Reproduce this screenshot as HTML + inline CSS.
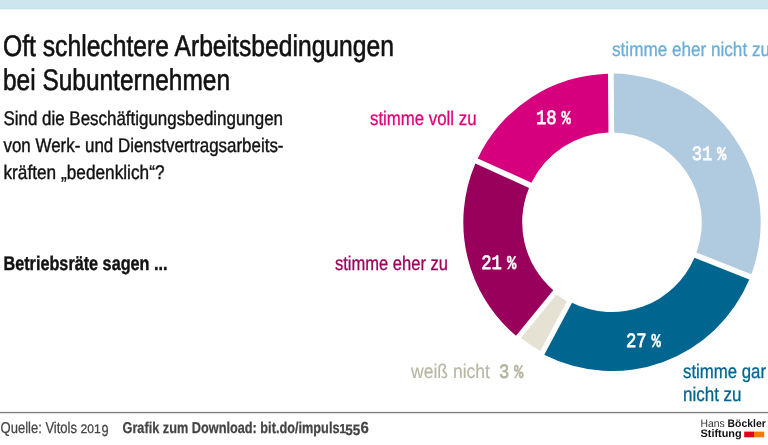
<!DOCTYPE html>
<html lang="de">
<head>
<meta charset="utf-8">
<title>Oft schlechtere Arbeitsbedingungen bei Subunternehmen</title>
<style>
html,body{margin:0;padding:0;background:#fff;}
body{width:768px;height:445px;overflow:hidden;}
svg{display:block;}
text{font-family:"Liberation Sans",sans-serif;text-rendering:geometricPrecision;}
.t{font-size:29.8px;fill:#111;stroke:#111;stroke-width:0.6px;}
.s{font-size:19.8px;fill:#111;stroke:#111;stroke-width:0.4px;}
.l{font-size:19.8px;stroke-width:0.3px;}
.b{font-weight:bold;}
.f{font-size:15.7px;fill:#444;stroke:#444;stroke-width:0.25px;}
.p{font-family:"Liberation Mono",monospace;font-weight:normal;font-size:20.3px;stroke-width:0.75px;stroke-linejoin:round;}
.q{font-family:"Liberation Mono",monospace;font-weight:bold;font-size:19.5px;stroke-width:0.4px;}
</style>
</head>
<body>
<svg width="768" height="445" viewBox="0 0 768 445">
<rect x="0" y="0" width="768" height="9" fill="#cde5ee"/><rect x="0" y="8" width="768" height="1" fill="#c7e3e9"/><rect x="0" y="9" width="768" height="1" fill="#e6f2f6"/>
<!-- title -->
<text class="t" x="3" y="56.3" textLength="391" lengthAdjust="spacingAndGlyphs">Oft schlechtere Arbeitsbedingungen</text>
<text class="t" x="3" y="90.3" textLength="227" lengthAdjust="spacingAndGlyphs">bei Subunternehmen</text>
<text class="s" x="3.5" y="124.6" textLength="279.5" lengthAdjust="spacingAndGlyphs">Sind die Beschäftigungsbedingungen</text>
<text class="s" x="3.5" y="151.6" textLength="280" lengthAdjust="spacingAndGlyphs">von Werk- und Dienstvertragsarbeits-</text>
<text class="s" x="3.5" y="178.6" textLength="161" lengthAdjust="spacingAndGlyphs">kräften „bedenklich“?</text>
<text class="s b" x="3.5" y="269.7" textLength="164" lengthAdjust="spacingAndGlyphs">Betriebsräte sagen ...</text>

<!-- donut -->
<g transform="translate(612.0,222.3)">
<path id="s1" fill="#b0cadf" d="M1.68 -148.69A148.7 148.7 0 0 1 139.37 51.84L84.55 30.24A89.8 89.8 0 0 0 2.14 -89.77Z"/>
<path id="s2" fill="#00668f" d="M137.28 57.14A148.7 148.7 0 0 1 -67.74 132.38L-39.99 80.41A89.8 89.8 0 0 0 82.46 35.55Z"/>
<path id="s3" fill="#e5e2d3" d="M-71.66 128.69A147.3 147.3 0 0 1 -91.07 115.77L-55.48 72.13A91 91 0 0 0 -45.14 79.02Z"/>
<path id="s4" fill="#99005c" d="M-95.98 113.57A148.7 148.7 0 0 1 -136.62 -58.70L-82.95 -34.41A89.8 89.8 0 0 0 -58.75 67.92Z"/>
<path id="s5" fill="#d6007f" d="M-134.27 -63.90A148.7 148.7 0 0 1 -4.02 -148.65L-3.55 -89.73A89.8 89.8 0 0 0 -80.60 -39.60Z"/>
</g>

<!-- labels -->
<text class="l" fill="#6aaed6" stroke="#6aaed6" x="612" y="55.5" textLength="158" lengthAdjust="spacingAndGlyphs">stimme eher nicht zu</text>
<text class="l" fill="#e2007a" stroke="#e2007a" x="370" y="124.6" textLength="106.5" lengthAdjust="spacingAndGlyphs">stimme voll zu</text>
<text class="l" fill="#99005c" stroke="#99005c" x="335" y="269.6" textLength="113" lengthAdjust="spacingAndGlyphs">stimme eher zu</text>
<text class="l" fill="#b7b6a3" stroke="#b7b6a3" style="stroke-width:0.15px" x="411" y="378.3" textLength="79" lengthAdjust="spacingAndGlyphs">weiß nicht</text>
<text class="l" fill="#00668f" stroke="#00668f" x="683" y="378" textLength="83" lengthAdjust="spacingAndGlyphs">stimme gar</text>
<text class="l" fill="#00668f" stroke="#00668f" x="683" y="400.6" textLength="58.5" lengthAdjust="spacingAndGlyphs">nicht zu</text>

<!-- percentages -->
<text fill="#fff" stroke="#fff" y="160"><tspan class="p" x="691.7" textLength="20.7" lengthAdjust="spacingAndGlyphs">31</tspan> <tspan class="q" x="717.1" textLength="9.3" lengthAdjust="spacingAndGlyphs">%</tspan></text>
<text fill="#fff" stroke="#fff" y="347"><tspan class="p" x="626.0" textLength="20.7" lengthAdjust="spacingAndGlyphs">27</tspan> <tspan class="q" x="651.6" textLength="9.3" lengthAdjust="spacingAndGlyphs">%</tspan></text>
<text fill="#fff" stroke="#fff" y="269"><tspan class="p" x="481.2" textLength="20.7" lengthAdjust="spacingAndGlyphs">21</tspan> <tspan class="q" x="507.1" textLength="9.3" lengthAdjust="spacingAndGlyphs">%</tspan></text>
<text fill="#fff" stroke="#fff" y="124"><tspan class="p" x="536.0" textLength="20.7" lengthAdjust="spacingAndGlyphs">18</tspan> <tspan class="q" x="561.6" textLength="9.3" lengthAdjust="spacingAndGlyphs">%</tspan></text>
<text fill="#b5b4a0" stroke="#b5b4a0" y="378.3"><tspan class="p" x="499.0" textLength="10.3" lengthAdjust="spacingAndGlyphs">3</tspan> <tspan class="q" x="514.0" textLength="9.3" lengthAdjust="spacingAndGlyphs">%</tspan></text>

<!-- footer -->
<rect x="0" y="412" width="768" height="1" fill="#7c7c7c"/><rect x="0" y="413" width="768" height="1" fill="#dedede"/><rect x="0" y="411" width="768" height="1" fill="#f4f4f4"/>
<text class="f"><tspan x="0.6" y="433" textLength="76.4" lengthAdjust="spacingAndGlyphs">Quelle: Vitols</tspan> <tspan x="80.5" y="432.9" style="font-size:12.4px" textLength="20.2" lengthAdjust="spacingAndGlyphs">201</tspan><tspan x="101.4" y="435.7" style="font-size:16px" textLength="7.1" lengthAdjust="spacingAndGlyphs">9</tspan></text>
<text class="f b"><tspan x="122.5" y="433" textLength="217" lengthAdjust="spacingAndGlyphs">Grafik zum Download: bit.do/impuls</tspan><tspan x="339.3" y="432.9" style="font-size:13px" textLength="6.9" lengthAdjust="spacingAndGlyphs">1</tspan><tspan x="345.3" y="435.1" style="font-size:15px" textLength="15" lengthAdjust="spacingAndGlyphs">55</tspan><tspan x="360.6" y="432.9" style="font-size:16px" textLength="8.3" lengthAdjust="spacingAndGlyphs">6</tspan></text>
<text x="700.5" y="426.8" font-size="10.9" fill="#333" textLength="65.2" lengthAdjust="spacingAndGlyphs"><tspan>Hans </tspan><tspan font-weight="bold" fill="#111">Böckler</tspan></text>
<text x="700.5" y="437.1" font-size="10.9" font-weight="bold" fill="#111">Stiftung</text>
<rect x="744.2" y="431.6" width="9.8" height="5.7" fill="#e2001a"/>
<rect x="754" y="431.6" width="10.2" height="5.7" fill="#f07d00"/>
</svg>
</body>
</html>
